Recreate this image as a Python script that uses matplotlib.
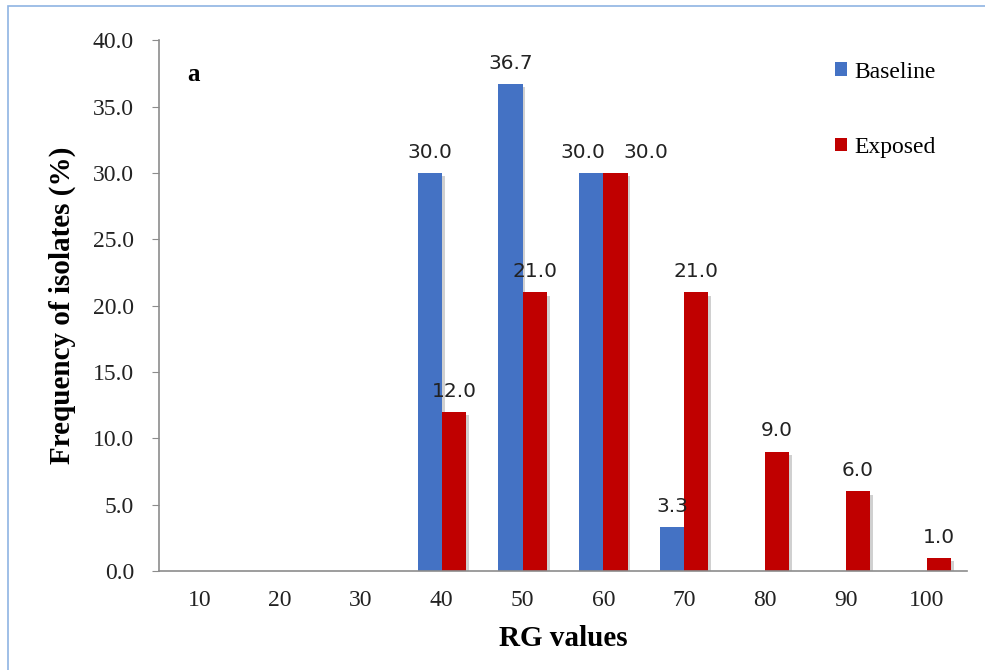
import numpy as np
from matplotlib import pyplot as plt
from matplotlib.patches import Rectangle

# Data
rg_values = ['10', '20', '30', '40', '50', '60', '70', '80', '90', '100']
baseline = [0, 0, 0, 30.0, 36.7, 30.0, 3.3, 0, 0, 0]
exposed = [0, 0, 0, 12.0, 21.0, 30.0, 21.0, 9.0, 6.0, 1.0]

blue = '#4472C4'
red = '#C00000'
serif = 'Liberation Serif'

fig = plt.figure(figsize=(9.85, 6.7), dpi=100, facecolor='white')
ax = fig.add_axes([0.1614, 0.1478, 0.8203, 0.792])

x = np.arange(len(rg_values))
w = 0.3

# soft shadow behind the bars
for vals, off in ((baseline, -w / 2), (exposed, w / 2)):
	sh = [v if v > 0 else 0 for v in vals]
	ax.bar(x + off + 0.035, sh, w, bottom=-0.25, color='#d0d0d0', zorder=1, linewidth=0)

b1 = ax.bar(x - w / 2, baseline, w, color=blue, label='Baseline', zorder=2)
b2 = ax.bar(x + w / 2, exposed, w, color=red, label='Exposed', zorder=2)

for k, (bars, vals) in enumerate(((b1, baseline), (b2, exposed))):
	for i, (r, v) in enumerate(zip(bars, vals)):
		if v > 0:
			# spread labels apart when both bars have the same height
			dx = 0
			if baseline[i] == exposed[i]:
				dx = -6 if k == 0 else 22
			ax.annotate('%.1f' % v, (r.get_x() + r.get_width() / 2, v), xytext=(dx, 8),
						textcoords='offset points', ha='center', va='bottom',
						fontsize=14.5, family='DejaVu Sans', color='#222222', zorder=3)

ax.set_xlim(-0.5, len(rg_values) - 0.5)
ax.set_ylim(0, 40)
ax.set_yticks(np.arange(0, 40.1, 5))
ax.set_yticklabels(['%.1f' % t for t in np.arange(0, 40.1, 5)])
ax.set_xticks(x)
ax.set_xticklabels(rg_values)

for s in ('top', 'right'):
	ax.spines[s].set_visible(False)
for s in ('left', 'bottom'):
	ax.spines[s].set_color('#8c8c8c')
	ax.spines[s].set_linewidth(1.2)
ax.tick_params(axis='y', direction='out', length=5, color='#8c8c8c', pad=13)
ax.tick_params(axis='x', length=0, pad=14)
for lab in ax.get_xticklabels() + ax.get_yticklabels():
	lab.set_family(serif)
	lab.set_fontsize(17)
	lab.set_color('#222222')

ax.set_ylabel('Frequency of isolates (%)', family=serif, fontsize=21, fontweight='bold', labelpad=12)
ax.set_xlabel('RG values', family=serif, fontsize=21, fontweight='bold', labelpad=10)

ax.text(0.035, 0.935, 'a', transform=ax.transAxes, family=serif, fontsize=18,
		fontweight='bold', ha='left', va='center')

ax.legend(loc='upper left', bbox_to_anchor=(0.81, 1.0), frameon=False,
		  prop={'family': serif, 'size': 17}, handlelength=0.5, handleheight=0.5,
		  handletextpad=0.35, labelspacing=2.3)

# light blue frame around the figure
fig.patches.append(Rectangle((8 / 985, -0.1), 1.2, 1 - 6 / 670 + 0.1, transform=fig.transFigure,
							 fill=False, edgecolor='#8fb4e3', linewidth=1.2, zorder=0))

plt.savefig('out.png', dpi=100, facecolor='white')
